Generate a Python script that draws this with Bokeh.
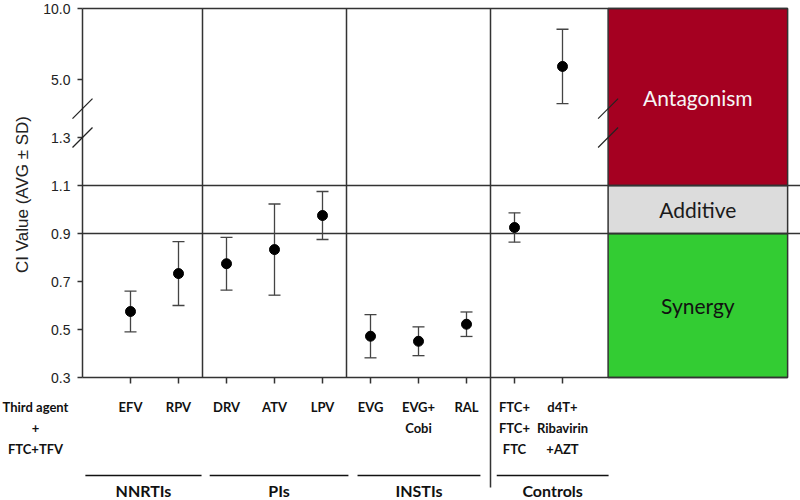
import numpy as np
from bokeh.plotting import figure
from bokeh.models import Range1d
from bokeh.core.properties import value
from bokeh.embed import file_html
from bokeh.resources import INLINE

# ---------------- data ----------------
categories = ["EFV", "RPV", "DRV", "ATV", "LPV", "EVG", "EVG+\nCobi", "RAL",
              "FTC+\nFTC+\nFTC", "d4T+\nRibavirin\n+AZT"]
ci_avg = [0.575, 0.733, 0.774, 0.833, 0.975, 0.472, 0.451, 0.522, 0.925, 5.92]
ci_sd = [0.085, 0.133, 0.110, 0.190, 0.100, 0.090, 0.060, 0.051, 0.061, 2.62]
groups = ["NNRTIs", "PIs", "INSTIs", "Controls"]
group_sizes = [2, 3, 3, 2]
first_label = "Third agent\n+\nFTC+TFV"
y_title = "CI Value (AVG ± SD)"
y_ticks = [0.3, 0.5, 0.7, 0.9, 1.1, 1.3, 5.0, 10.0]
y_tick_labels = ["0.3", "0.5", "0.7", "0.9", "1.1", "1.3", "5.0", "10.0"]
zones = ["Synergy", "Additive", "Antagonism"]
zone_lo = [0.3, 0.9, 1.1]
zone_hi = [0.9, 1.1, 10.0]
break_vals = [1.3, 2.95]

# ---------------- layout ----------------
LOW_SCALE = 240.0   # plot units (px) per CI unit below the break
UP_SCALE = 14.2     # plot units (px) per CI unit above the break
def to_u(v):
    v = np.asarray(v, dtype=float)
    return np.where(v <= 1.3, (v - 0.3) * LOW_SCALE, 298.0 + (v - 5.0) * UP_SCALE)

W, H = 800, 500
AX_PX = 82.0          # pixel position of the y axis
CAT_PX = 48.0         # pixels per category step
X0 = -AX_PX / CAT_PX
X_END = (W - AX_PX) / CAT_PX
Y_TOP = 377.0
BOX_X0, BOX_X1 = 10.95, 14.69
grp_line_x0 = [0.06, 2.65, 5.73, 8.63]
grp_line_x1 = [2.48, 5.54, 8.29, 10.96]
LINE_C = "#333333"
TXT_C = "#222222"
px = 1.0 / CAT_PX     # one pixel in x units

x = np.arange(1, len(categories) + 1)
avg = np.array(ci_avg)
sd = np.array(ci_sd)
u_avg = to_u(avg)
u_hi = to_u(avg + sd)
u_lo = to_u(avg - sd)
u_top = float(to_u(10.0))
u_bot = float(to_u(0.3))

p = figure(width=W, height=H, output_backend="svg", toolbar_location=None,
           x_range=Range1d(X0, X_END), y_range=Range1d(Y_TOP - H, Y_TOP),
           min_border=0, x_axis_location=None, y_axis_location=None)
p.xgrid.visible = False
p.ygrid.visible = False
p.outline_line_color = None
p.background_fill_color = "white"
p.border_fill_color = "white"

# zone boxes
zone_colors = ["#33CC33", "#DCDCDC", "#A50021"]
zone_text_colors = ["#111111", "#1a1a1a", "#F6F6F6"]
zb = to_u(zone_lo)
zt = to_u(zone_hi)
p.quad(left=BOX_X0, right=BOX_X1, bottom=zb, top=zt, fill_color=zone_colors,
       line_color=LINE_C, line_width=1.5)
p.text(x=[(BOX_X0 + BOX_X1) / 2] * 3, y=(zb + zt) / 2, text=zones,
       text_color=zone_text_colors, text_align="center", text_baseline="middle",
       text_font=value("Lato"), text_font_size="21px")

# frame lines
p.segment(x0=[0, 0], y0=[u_top, u_bot], x1=[BOX_X1, BOX_X1], y1=[u_top, u_bot],
          line_color=LINE_C, line_width=1.5)
p.segment(x0=[0, 0], y0=to_u([0.9, 1.1]), x1=[X_END, X_END], y1=to_u([0.9, 1.1]),
          line_color=LINE_C, line_width=1.5)
seps = np.cumsum(group_sizes)[:-1] + 0.5
sep_bottom = [u_bot, u_bot, -110]
p.segment(x0=seps, y0=sep_bottom, x1=seps, y1=[u_top] * len(seps),
          line_color=LINE_C, line_width=1.5)

# y axis (drawn by hand because of the axis break)
u_ticks = to_u(y_ticks)
p.segment(x0=[0], y0=[u_bot], x1=[0], y1=[u_top], line_color=LINE_C, line_width=1.5)
p.segment(x0=[-5 * px] * len(u_ticks), y0=u_ticks, x1=[0] * len(u_ticks), y1=u_ticks,
          line_color=LINE_C, line_width=1.5)
p.text(x=[-12 * px] * len(u_ticks), y=u_ticks, text=y_tick_labels, text_align="right",
       text_baseline="middle", text_font=value("Liberation Sans"), text_font_size="14px",
       text_color=TXT_C)
p.text(x=[-60 * px], y=[183], text=[y_title], angle=np.pi / 2, text_align="center",
       text_baseline="middle", text_font=value("Liberation Sans"), text_font_size="17px",
       text_color=TXT_C)

# bottom tick marks
p.segment(x0=x, y0=[0] * len(x), x1=x, y1=[-6] * len(x), line_color=LINE_C, line_width=1.5)

# axis break marks
bx = []
bu = []
for xb in [0.0, BOX_X0]:
    for b in break_vals:
        bx.append(xb)
        bu.append(float(to_u(b)))
bx = np.array(bx)
bu = np.array(bu)
p.segment(x0=bx - 10 * px, y0=bu - 10, x1=bx + 10 * px, y1=bu + 10,
          line_color="#222222", line_width=1.2)

# error bars
cap = 6 * px
p.segment(x0=x, y0=u_lo, x1=x, y1=u_hi, line_color="#444444", line_width=1.3)
p.segment(x0=x - cap, y0=u_hi, x1=x + cap, y1=u_hi, line_color="#444444", line_width=1.3)
p.segment(x0=x - cap, y0=u_lo, x1=x + cap, y1=u_lo, line_color="#444444", line_width=1.3)
p.scatter(x=x, y=u_avg, size=10, fill_color="black", line_color="black")

# category labels
lab_x = np.concatenate([[X0 + 35 * px], x])
lab_t = [first_label] + categories
p.text(x=lab_x, y=[-21] * len(lab_x), text=lab_t, text_align="center", text_baseline="top",
       text_font=value("Lato"), text_font_style="bold", text_font_size="13px",
       text_line_height=1.33, text_color="#111111")

# group lines and labels
p.segment(x0=grp_line_x0, y0=[-98] * 4, x1=grp_line_x1, y1=[-98] * 4,
          line_color="#111111", line_width=1.5)
p.text(x=[(a + b) / 2 for a, b in zip(grp_line_x0, grp_line_x1)], y=[-113] * 4, text=groups,
       text_align="center", text_baseline="middle", text_font=value("Lato"),
       text_font_style="bold", text_font_size="16px", text_color="#111111")

open("out.html", "w").write(file_html(p, INLINE))
